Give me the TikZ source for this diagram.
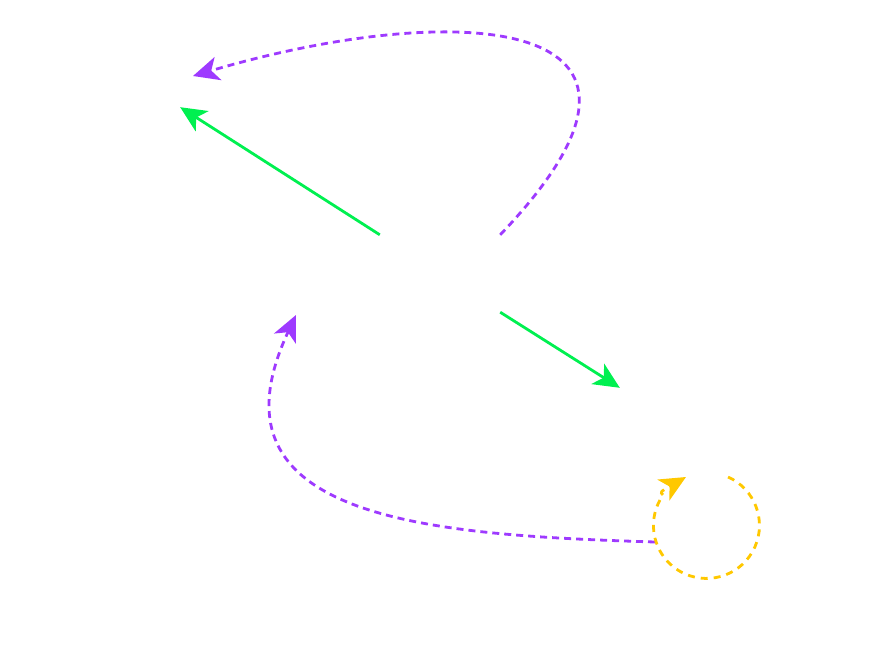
\documentclass[tikz,border=0pt]{standalone}
\usetikzlibrary{arrows.meta}
\definecolor{lgreen}{RGB}{0,240,80}
\definecolor{lpurple}{RGB}{158,58,255}
\definecolor{lyellow}{RGB}{255,200,0}
\tikzset{
  hidden/.style={rectangle, draw=none, inner sep=0pt},
  tipbig/.style={-{Stealth[length=26pt,width=24pt,inset=7pt]}},
  solidlink/.style={lgreen, line width=2.8pt, tipbig},
  dashlink/.style={lpurple, line width=2.8pt, dash pattern=on 7pt off 5pt, tipbig},
  looplink/.style={lyellow, line width=2.8pt, dash pattern=on 7pt off 6pt, tipbig},
}
\begin{document}
\begin{tikzpicture}[x=1pt,y=1pt]
\useasboundingbox (0,0) rectangle (877,-658);
\node[hidden, minimum width=120pt, minimum height=77pt] (A) at (440,-273.5) {};
\node[hidden, minimum width=100pt, minimum height=32pt] (B) at (130,-91) {};
\node[hidden, minimum width=174pt, minimum height=89pt] (C) at (707,-432.5) {};
\coordinate (Bp) at (193,-76);
\coordinate (Ap) at (296,-315);
\coordinate (Ls) at (728,-477);
\coordinate (Le) at (686,-477);
\coordinate (Es) at (655,-542);
% green solid links
\draw[solidlink] (A.north west) -- (B.south east);
\draw[solidlink] (A.south east) -- (C.north west);
% purple dashed links
\draw[dashlink] (A.north east) .. controls (715,-10) and (450,0) .. (Bp);
\draw[dashlink] (Es) .. controls (430,-535) and (200,-520) .. (Ap);
% yellow self loop
\draw[looplink] (Ls) arc[start angle=66, end angle=-215, radius=53pt] .. controls (660,-492) .. (Le);
\end{tikzpicture}
\end{document}
